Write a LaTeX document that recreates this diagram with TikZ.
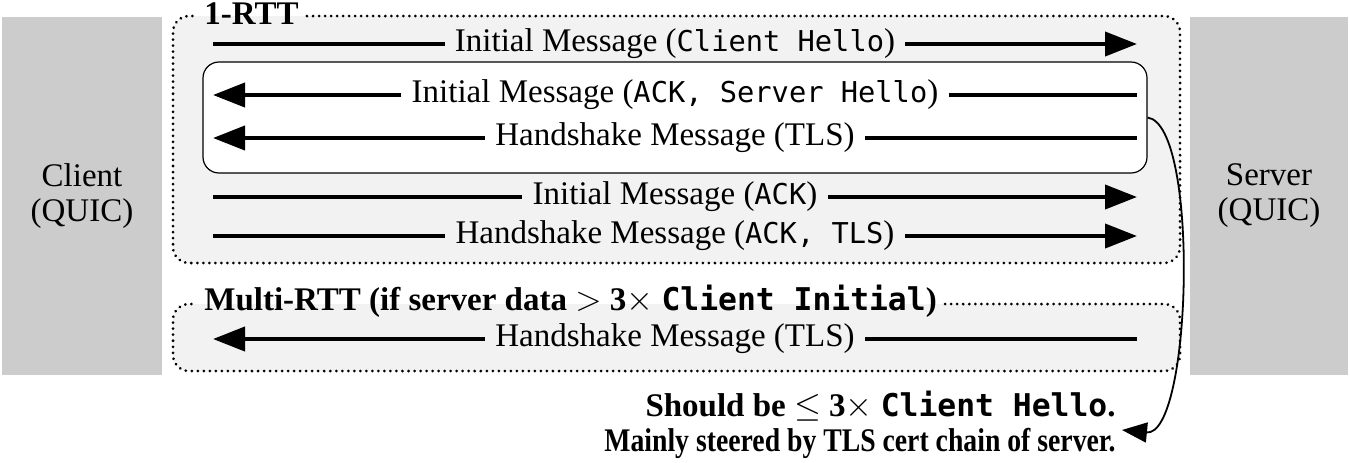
\documentclass[tikz,border=0pt]{standalone}
\usepackage{fontspec}
\setmainfont{Liberation Serif}
\setmonofont{DejaVu Sans Mono}[Scale=0.87]
\newfontfamily\boldmono{DejaVu Sans Mono}[Scale=0.95]
\newfontfamily\narrowserif{Liberation Serif}[FakeStretch=0.84]
\usetikzlibrary{arrows.meta}
\definecolor{partygray}{HTML}{CCCCCC}
\definecolor{phasegray}{HTML}{F2F2F2}
\begin{document}
\begin{tikzpicture}[x=0.5pt,y=-0.5pt,
  font=\fontsize{16.5}{17.5}\selectfont,
  party/.style={fill=partygray, draw=none, minimum width=80pt, minimum height=179pt, align=center, inner sep=0pt},
  msg/.style={inner xsep=5pt, inner ysep=0pt},
  msgline/.style={line width=2pt},
  msgarrow/.style={line width=2pt, -{Triangle[length=16pt,width=12pt]}},
  phase/.style={line width=1.5pt, dash pattern=on 0.01pt off 3pt, line cap=round, rounded corners=8pt},
  phasefill/.style={fill=phasegray, rounded corners=8pt},
  phaselabel/.style={font=\fontsize{16.5}{17.5}\selectfont\bfseries, inner xsep=4pt, inner ysep=0pt, anchor=west},
  note/.style={font=\fontsize{16.5}{17.5}\selectfont\bfseries, align=right, anchor=east, inner sep=0pt},
  notearrow/.style={line width=0.9pt, -{Triangle[length=12.5pt,width=10pt]}}
]
\useasboundingbox (0,0) rectangle (1350,462);

% parties
\node[party] (client) at (82,196) {Client\\(QUIC)};
\node[party, minimum width=79pt] (server) at (1269,196) {Server\\(QUIC)};

% 1-RTT phase
\coordinate (o1tl) at (173,16);
\coordinate (o1tr) at (1180,16);
\coordinate (o1br) at (1180,263);
\coordinate (o1bl) at (173,263);
\fill[phasefill] (o1tl) rectangle (o1br);
\node[phaselabel] (lab1) at (196,14) {1-RTT};
\draw[phase] (lab1.east |- o1tl) -- (o1tr) -- (o1br) -- (o1bl) -- (o1tl) -- (lab1.west |- o1tl);

% inner server flight box
\node[draw=black, fill=white, line width=0.6pt, rounded corners=8pt,
      minimum width=472pt, minimum height=55.5pt, inner sep=0pt] (flight) at (675,117.5) {};

% Multi-RTT phase
\coordinate (o2tl) at (173,304);
\coordinate (o2tr) at (1180,304);
\coordinate (o2br) at (1180,371);
\coordinate (o2bl) at (173,371);
\fill[phasefill] (o2tl) rectangle (o2br);
\node[phaselabel] (lab2) at (196,301) {Multi-RTT (if server data $>$ 3$\times$ {\boldmono\bfseries Client Initial})};
\draw[phase] (lab2.east |- o2tl) -- (o2tr) -- (o2br) -- (o2bl) -- (o2tl) -- (lab2.west |- o2tl);

% messages
\node[msg] (m1) at (675,44) {Initial Message (\texttt{Client Hello})};
\coordinate (m1l) at (213,44); \coordinate (m1r) at (1137,44);
\draw[msgline] (m1l) -- (m1.west);
\draw[msgarrow] (m1.east) -- (m1r);

\node[msg] (m2) at (675,95) {Initial Message (\texttt{ACK, Server Hello})};
\coordinate (m2l) at (213,95); \coordinate (m2r) at (1137,95);
\draw[msgarrow] (m2.west) -- (m2l);
\draw[msgline] (m2.east) -- (m2r);

\node[msg] (m3) at (675,138) {Handshake Message (TLS)};
\coordinate (m3l) at (213,138); \coordinate (m3r) at (1137,138);
\draw[msgarrow] (m3.west) -- (m3l);
\draw[msgline] (m3.east) -- (m3r);

\node[msg] (m4) at (675,197) {Initial Message (\texttt{ACK})};
\coordinate (m4l) at (213,197); \coordinate (m4r) at (1137,197);
\draw[msgline] (m4l) -- (m4.west);
\draw[msgarrow] (m4.east) -- (m4r);

\node[msg] (m5) at (675,236) {Handshake Message (\texttt{ACK, TLS})};
\coordinate (m5l) at (213,236); \coordinate (m5r) at (1137,236);
\draw[msgline] (m5l) -- (m5.west);
\draw[msgarrow] (m5.east) -- (m5r);

\node[msg] (m6) at (675,339) {Handshake Message (TLS)};
\coordinate (m6l) at (213,339); \coordinate (m6r) at (1137,339);
\draw[msgarrow] (m6.west) -- (m6l);
\draw[msgline] (m6.east) -- (m6r);

% note
\node[note] (note) at (1116,425) {Should be $\leq$ 3$\times$ {\boldmono Client Hello}.\\{\narrowserif\bfseries Mainly steered by TLS cert chain of server.}};
\coordinate (notetip) at (1122,430);
\draw[notearrow] (flight.east) .. controls (1200,125) and (1192,437) .. (notetip);
\end{tikzpicture}
\end{document}
